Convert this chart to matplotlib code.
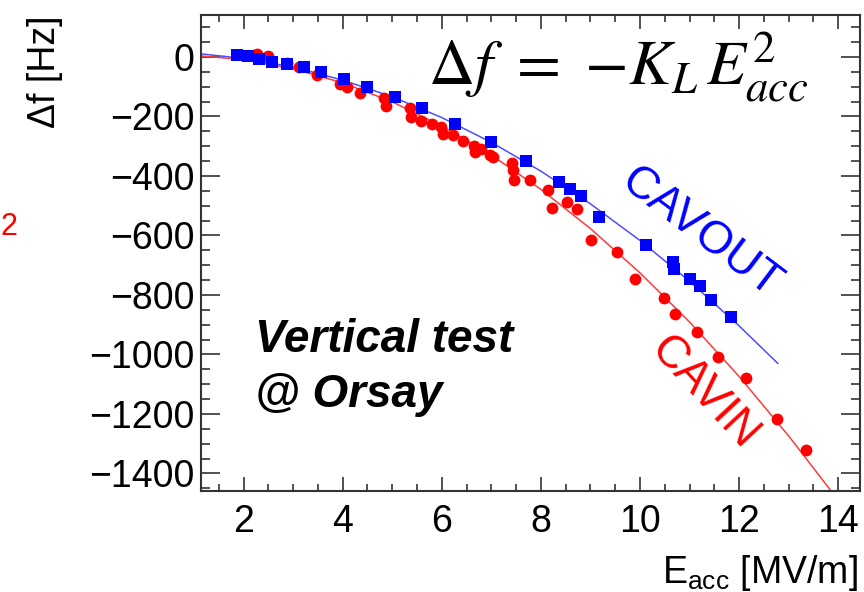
import matplotlib
matplotlib.use("Agg")
import matplotlib.pyplot as plt
from matplotlib.ticker import MultipleLocator

# CAVOUT measurements (blue squares): E_acc [MV/m], detuning [Hz]
cavout_e = [1.87, 2.09, 2.31, 2.58, 2.87, 3.22, 3.57, 4.02, 4.49, 5.06, 5.61, 6.27,
            6.99, 7.69, 8.36, 8.59, 8.81, 9.18, 10.12, 10.66, 10.68, 11.0, 11.22,
            11.44, 11.84]
cavout_df = [7, 3, -8, -16, -24, -35, -49, -74, -100, -135, -172, -225,
             -285, -349, -419, -445, -467, -537, -631, -690, -712, -747, -769,
             -817, -873]

# CAVIN measurements (red circles)
cavin_e = [2.27, 2.49, 2.87, 3.11, 3.49, 3.94, 4.08, 4.34, 4.83, 4.87, 5.35, 5.37,
           5.59, 5.80, 5.98, 6.02, 6.22, 6.42, 6.64, 6.66, 6.80, 6.97, 7.03, 7.41,
           7.43, 7.45, 7.77, 8.14, 8.22, 8.52, 8.72, 9.02, 9.53, 9.89, 10.48,
           10.70, 11.14, 11.57, 12.13, 12.77, 13.34]
cavin_df = [10, 3, -20, -34, -61, -91, -101, -121, -138, -165, -171, -202,
            -215, -225, -235, -259, -262, -282, -299, -319, -309, -329, -336, -356,
            -380, -413, -413, -447, -508, -487, -511, -615, -655, -746, -810,
            -864, -924, -1008, -1079, -1217, -1321]

# fit curves
cavout_fit_e = [1.15, 2, 3, 4, 5, 6, 7, 8, 9, 10, 11, 12, 12.78]
cavout_fit_df = [10, -5, -34, -78, -134, -204, -287, -384, -494, -617, -754, -904, -1030]
cavin_fit_e = [1.15, 2, 3, 4, 5, 6, 7, 8, 9, 10, 11, 12, 13, 14]
cavin_fit_df = [3, -9, -40, -87, -151, -232, -330, -445, -577, -726, -891, -1074, -1274, -1490]

x_ticks = [2, 4, 6, 8, 10, 12, 14]
y_ticks = [0, -200, -400, -600, -800, -1000, -1200, -1400]

plt.rcParams['font.family'] = ['Liberation Sans', 'DejaVu Sans']
plt.rcParams['mathtext.fontset'] = 'custom'
plt.rcParams['mathtext.rm'] = 'Liberation Sans'
plt.rcParams['mathtext.it'] = 'Liberation Sans:italic'

fig = plt.figure(figsize=(8.64, 5.92), dpi=100)
ax = fig.add_axes([0.2332, 0.1706, 0.7622, 0.8041])

ax.plot(cavout_fit_e, cavout_fit_df, color='#4d4dff', lw=1.1, zorder=2)
ax.plot(cavin_fit_e, cavin_fit_df, color='#ff3b3b', lw=1.1, zorder=2)
ax.plot(cavin_e, cavin_df, 'o', color='red', ms=8.5, mew=0, zorder=3)
ax.plot(cavout_e, cavout_df, 's', color='blue', ms=8, mew=0, zorder=4)

ax.set_xlim(1.15, 14.44)
ax.set_ylim(-1459, 141)
ax.set_xticks(x_ticks)
ax.set_yticks(y_ticks)
ax.xaxis.set_minor_locator(MultipleLocator(0.5))
ax.yaxis.set_minor_locator(MultipleLocator(50))

ax.tick_params(axis='both', which='both', direction='in', top=True, right=True,
               labelsize=27, color='#333333', width=1.2)
ax.tick_params(axis='x', which='major', length=10, pad=9)
ax.tick_params(axis='x', which='minor', length=5)
ax.tick_params(axis='y', which='major', length=13.5, pad=5)
ax.tick_params(axis='y', which='minor', length=6.5)
for s in ax.spines.values():
    s.set_linewidth(1.5)
    s.set_color('#333333')

fig.text(45 / 864, 1 - 15 / 592, 'Δf [Hz]', rotation=90, ha='center', va='top', fontsize=27)
fig.text(858 / 864, 1 - 583 / 592, r'E$_{\rm acc}$ [MV/m]', ha='right', va='baseline', fontsize=27)
fig.text(1 / 864, 1 - 235 / 592, '2', color='red', ha='left', va='baseline', fontsize=22)

ax.text(5.72, -94, r'$\Delta f\ = \ {-K_L}\, E_{acc}^2$', fontsize=46, math_fontfamily='stix',
        ha='left', va='baseline')
ax.text(2.23, -992, 'Vertical test', fontsize=33, fontweight='bold', fontstyle='italic')
ax.text(2.23, -1176, '@ Orsay', fontsize=33, fontweight='bold', fontstyle='italic')
ax.text(11.22, -590, 'CAVOUT', color='blue', fontsize=33, rotation=-37, ha='center', va='center')
ax.text(11.3, -1129, 'CAVIN', color='red', fontsize=33, rotation=-47, ha='center', va='center')

fig.savefig('out.png', dpi=100)
